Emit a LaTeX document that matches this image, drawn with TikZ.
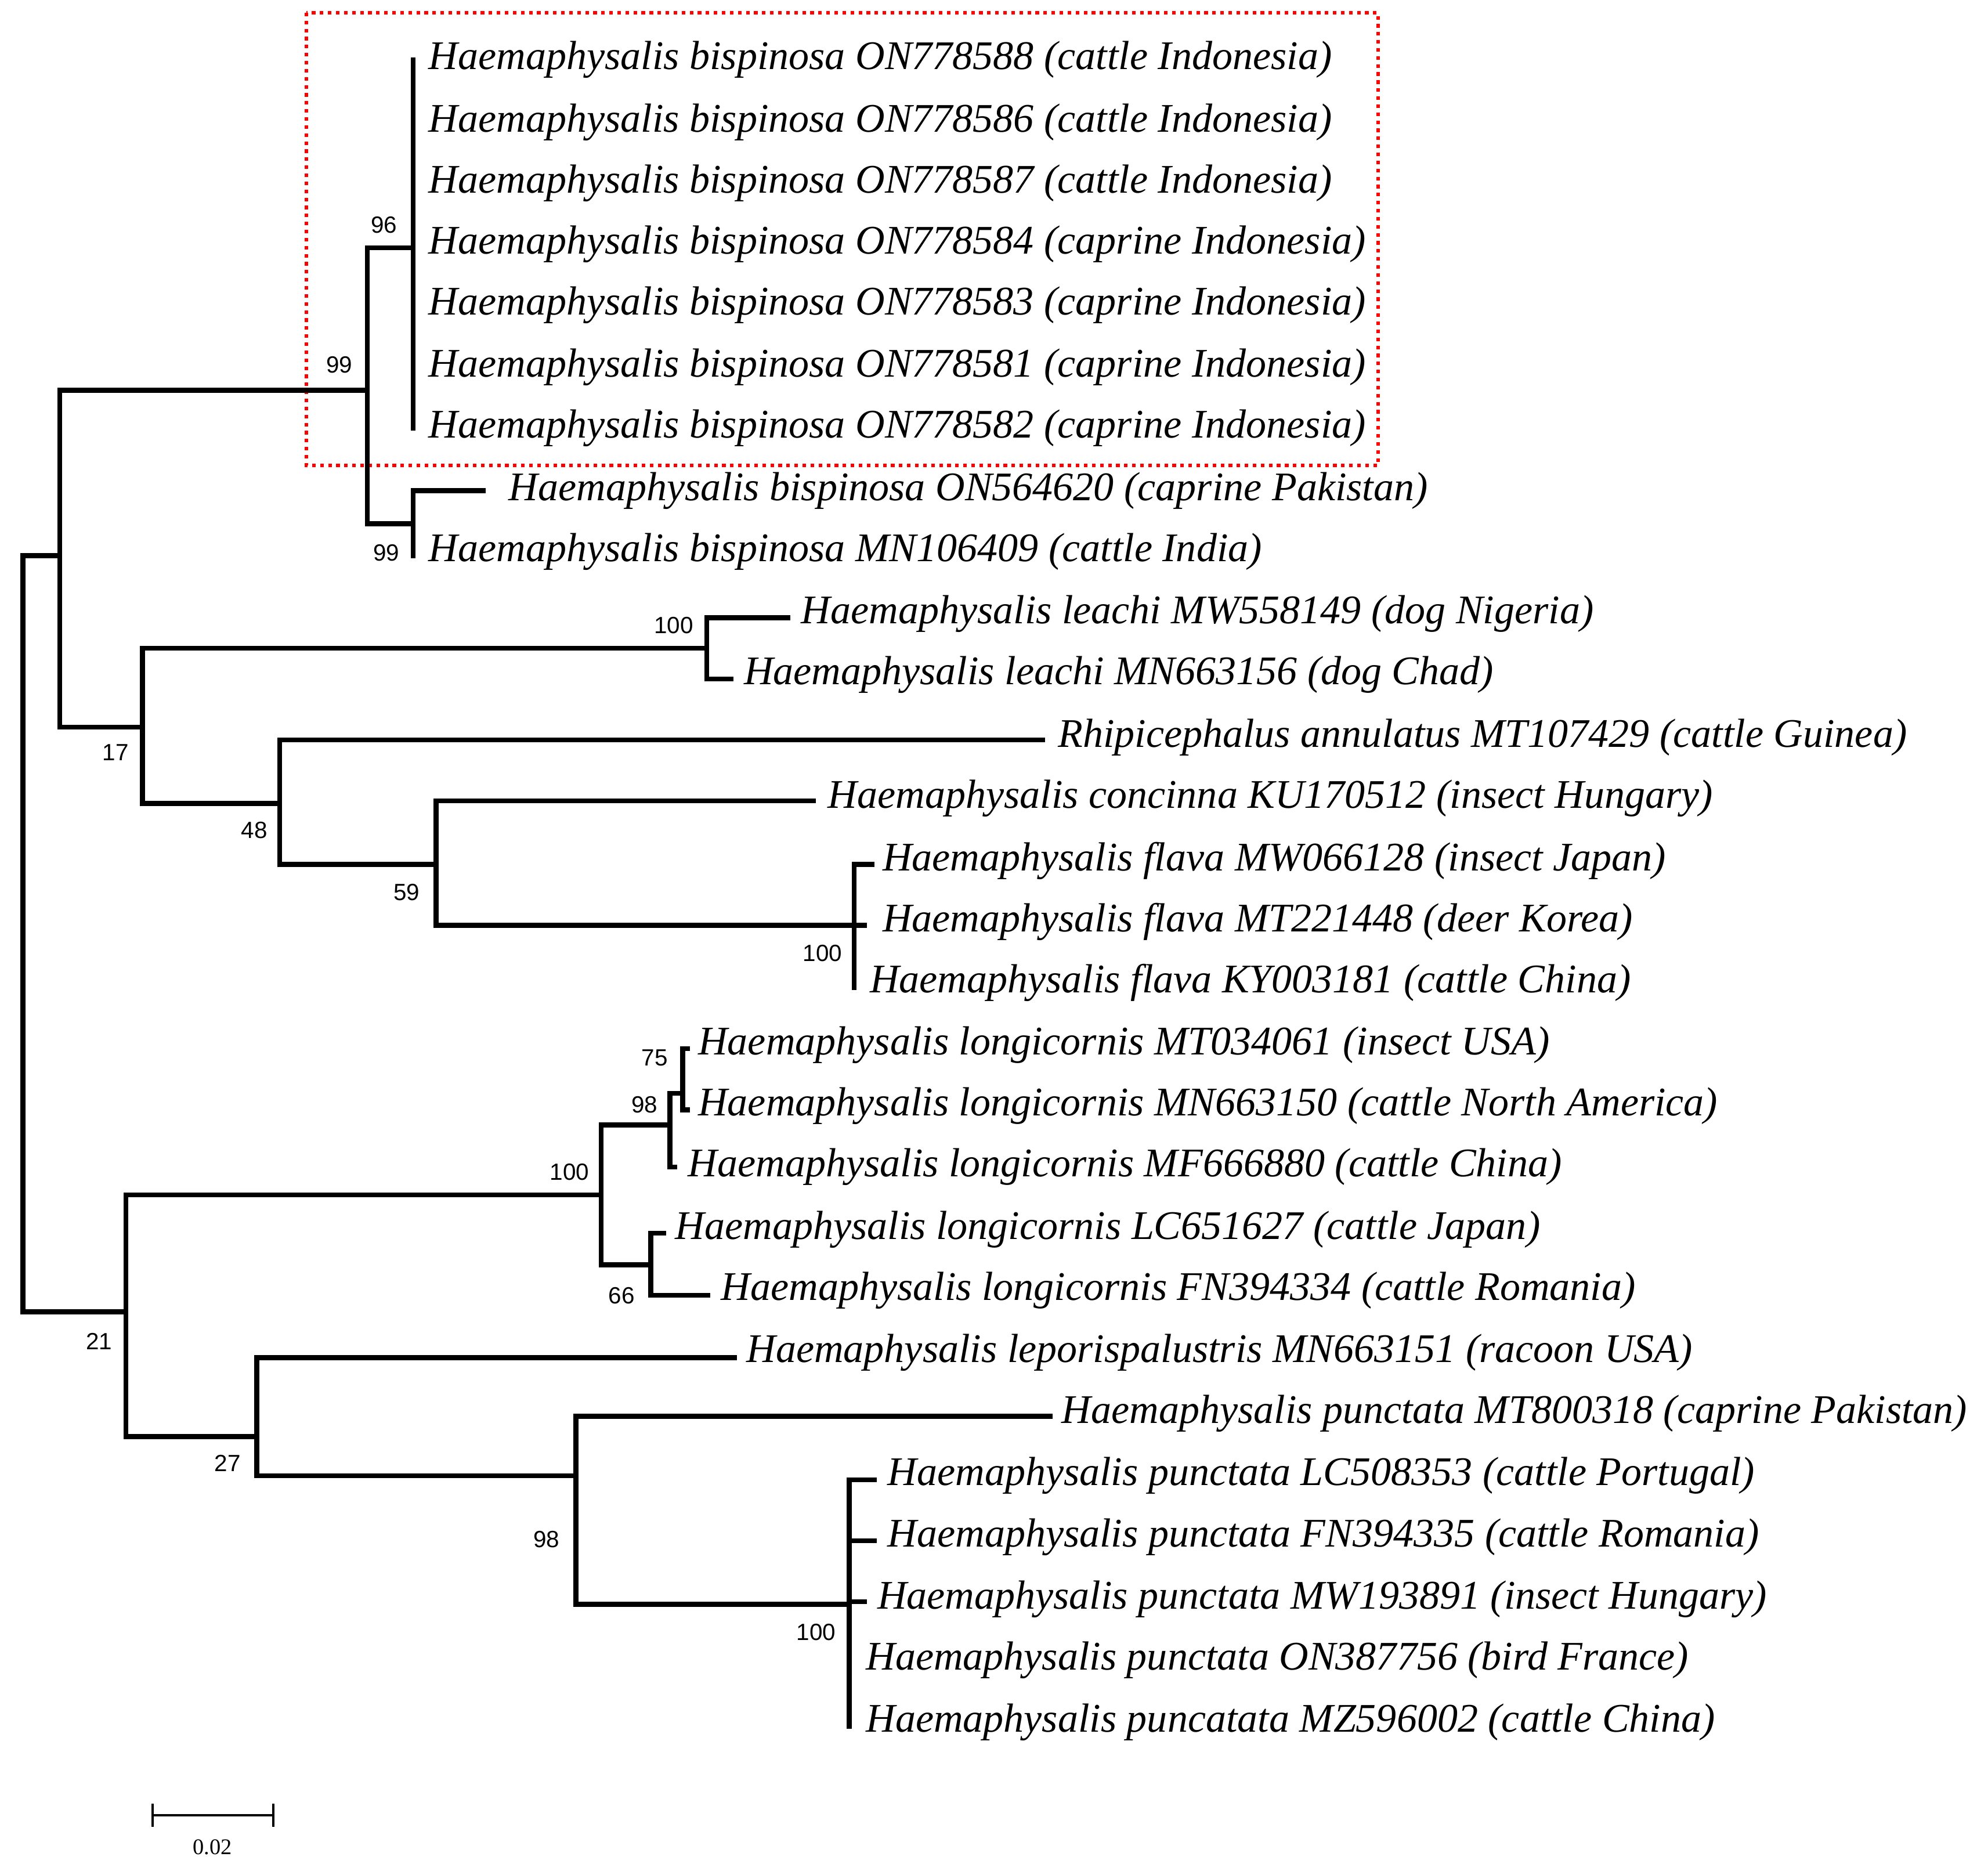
\documentclass[tikz,border=0pt]{standalone}
\usepackage{fontspec}
\setmainfont{Liberation Serif}
\setsansfont{Liberation Sans}
\begin{document}
\begin{tikzpicture}[x=0.02cm,y=-0.02cm,
  br/.style={line width=2.2pt,line cap=rect},
  lf/.style={anchor=west,inner sep=0pt,font=\fontsize{18.2}{20}\selectfont\itshape},
  bs/.style={inner sep=0pt,font=\sffamily\fontsize{10.5}{12}\selectfont}]
\useasboundingbox (0,0) rectangle (1564,1466);
\draw[red,dotted,line width=1.6pt] (241,10) rectangle (1084,366);
% root
\draw[br] (18,437)--(18,1032);
\draw[br] (18,437)--(47,437) (47,307)--(47,572);
\draw[br] (47,307)--(289,307) (289,195)--(289,412);
\draw[br] (289,195)--(325,195) (325,47)--(325,337);
\draw[br] (289,412)--(325,412) (325,386)--(325,437) (325,386)--(380,386);
\draw[br] (47,572)--(112,572) (112,510)--(112,632);
\draw[br] (112,510)--(556,510) (556,486)--(556,534) (556,486)--(620,486) (556,534)--(575,534);
\draw[br] (112,632)--(220,632) (220,582)--(220,680) (220,582)--(820,582);
\draw[br] (220,680)--(343,680) (343,630)--(343,728) (343,630)--(640,630);
\draw[br] (343,728)--(672,728) (672,680)--(672,777) (672,680)--(686,680) (672,728)--(680,728);
\draw[br] (18,1032)--(99,1032) (99,940)--(99,1130);
\draw[br] (99,940)--(473,940) (473,885)--(473,995);
\draw[br] (473,885)--(527,885) (527,860)--(527,918) (527,860)--(537,860) (537,825)--(537,873) (537,825)--(541,825) (537,873)--(541,873) (527,918)--(531,918);
\draw[br] (473,995)--(512,995) (512,970)--(512,1019) (512,970)--(522,970) (512,1019)--(557,1019);
\draw[br] (99,1130)--(202,1130) (202,1068)--(202,1161) (202,1068)--(578,1068);
\draw[br] (202,1161)--(453,1161) (453,1114)--(453,1262) (453,1114)--(826,1114);
\draw[br] (453,1262)--(668,1262) (668,1164)--(668,1358) (668,1164)--(688,1164) (668,1212)--(688,1212) (668,1260)--(680,1260);
% leaves
\node[lf] (l1) at (337,47) {Haemaphysalis bispinosa ON778588 (cattle Indonesia)};
\node[lf] (l2) at (337,96) {Haemaphysalis bispinosa ON778586 (cattle Indonesia)};
\node[lf] (l3) at (337,144) {Haemaphysalis bispinosa ON778587 (cattle Indonesia)};
\node[lf] (l4) at (337,192) {Haemaphysalis bispinosa ON778584 (caprine Indonesia)};
\node[lf] (l5) at (337,240) {Haemaphysalis bispinosa ON778583 (caprine Indonesia)};
\node[lf] (l6) at (337,289) {Haemaphysalis bispinosa ON778581 (caprine Indonesia)};
\node[lf] (l7) at (337,337) {Haemaphysalis bispinosa ON778582 (caprine Indonesia)};
\node[lf] (l8) at (400,386) {Haemaphysalis bispinosa ON564620 (caprine Pakistan)};
\node[lf] (l9) at (337,434) {Haemaphysalis bispinosa MN106409 (cattle India)};
\node[lf] (l10) at (630,483) {Haemaphysalis leachi MW558149 (dog Nigeria)};
\node[lf] (l11) at (585,531) {Haemaphysalis leachi MN663156 (dog Chad)};
\node[lf] (l12) at (832,580) {Rhipicephalus annulatus MT107429 (cattle Guinea)};
\node[lf] (l13) at (651,628) {Haemaphysalis concinna KU170512 (insect Hungary)};
\node[lf] (l14) at (694,677) {Haemaphysalis flava MW066128 (insect Japan)};
\node[lf] (l15) at (694,725) {Haemaphysalis flava MT221448 (deer Korea)};
\node[lf] (l16) at (684,773) {Haemaphysalis flava KY003181 (cattle China)};
\node[lf] (l17) at (549,822) {Haemaphysalis longicornis MT034061 (insect USA)};
\node[lf] (l18) at (549,870) {Haemaphysalis longicornis MN663150 (cattle North America)};
\node[lf] (l19) at (541,918) {Haemaphysalis longicornis MF666880 (cattle China)};
\node[lf] (l20) at (531,967) {Haemaphysalis longicornis LC651627 (cattle Japan)};
\node[lf] (l21) at (567,1015) {Haemaphysalis longicornis FN394334 (cattle Romania)};
\node[lf] (l22) at (587,1064) {Haemaphysalis leporispalustris MN663151 (racoon USA)};
\node[lf] (l23) at (835,1112) {Haemaphysalis punctata MT800318 (caprine Pakistan)};
\node[lf] (l24) at (698,1161) {Haemaphysalis punctata LC508353 (cattle Portugal)};
\node[lf] (l25) at (698,1209) {Haemaphysalis punctata FN394335 (cattle Romania)};
\node[lf] (l26) at (690,1258) {Haemaphysalis punctata MW193891 (insect Hungary)};
\node[lf] (l27) at (681,1306) {Haemaphysalis punctata ON387756 (bird France)};
\node[lf] (l28) at (681,1355) {Haemaphysalis puncatata MZ596002 (cattle China)};
% bootstrap
\node[bs] (b1) at (267,287) {99};
\node[bs] (b2) at (302,177) {96};
\node[bs] (b3) at (304,435) {99};
\node[bs] (b4) at (530,492) {100};
\node[bs] (b5) at (91,592) {17};
\node[bs] (b6) at (200,653) {48};
\node[bs] (b7) at (320,702) {59};
\node[bs] (b8) at (647,750) {100};
\node[bs] (b9) at (515,832) {75};
\node[bs] (b10) at (507,869) {98};
\node[bs] (b11) at (448,922) {100};
\node[bs] (b12) at (489,1019) {66};
\node[bs] (b13) at (78,1055) {21};
\node[bs] (b14) at (179,1151) {27};
\node[bs] (b15) at (430,1211) {98};
\node[bs] (b16) at (642,1284) {100};
% scale bar
\coordinate (s1) at (120,1428); \coordinate (s2) at (215,1428);
\draw[line width=1.2pt] (s1)--(s2) (120,1419)--(120,1437) (215,1419)--(215,1437);
\node[font=\fontsize{10}{12}\selectfont] (sl) at (167,1453) {0.02};
\end{tikzpicture}
\end{document}
